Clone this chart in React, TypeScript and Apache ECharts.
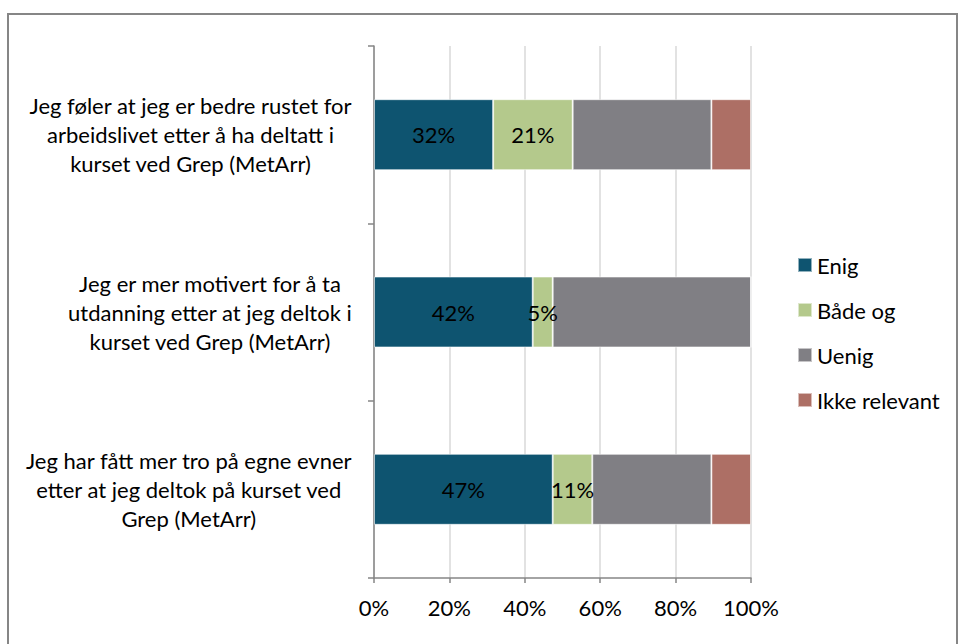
import React, { useEffect, useRef } from "react";
import * as echarts from "echarts";

const categories = [
  "Jeg føler at jeg er bedre rustet for\narbeidslivet etter å ha deltatt i\nkurset ved Grep (MetArr)",
  "Jeg er mer motivert for å ta\nutdanning etter at jeg deltok i\nkurset ved Grep (MetArr)",
  "Jeg har fått mer tro på egne evner\netter at jeg deltok på kurset ved\nGrep (MetArr)",
];
const seriesNames = ["Enig", "Både og", "Uenig", "Ikke relevant"];
const enig = [31.6, 42.1, 47.4];
const badeOg = [21.1, 5.3, 10.5];
const uenig = [36.8, 52.6, 31.6];
const ikkeRelevant = [10.5, 0, 10.5];
const xTicks = [0, 20, 40, 60, 80, 100];

const colors = ["#0E5470", "#B4C98C", "#807F84", "#AD6F65"];
const FONT = "Lato";
const FS = 22;

export default function App() {
  const ref = useRef<HTMLDivElement>(null);
  useEffect(() => {
    if (!ref.current) return;
    const chart = echarts.init(ref.current, null, { renderer: "svg" });
    const labelled = [true, true, false, false];
    const values = [enig, badeOg, uenig, ikkeRelevant];
    chart.setOption({
      animation: false,
      textStyle: { fontFamily: FONT },
      graphic: [
        {
          type: "rect",
          shape: { x: 8, y: 14, width: 949, height: 650 },
          style: { fill: "none", stroke: "#868686", lineWidth: 2 },
          silent: true,
        },
      ],
      grid: { left: 374, right: 207, top: 46, bottom: 66, containLabel: false },
      legend: {
        orient: "vertical",
        left: 797,
        top: 254,
        padding: 0,
        itemWidth: 14,
        itemHeight: 14,
        itemGap: 23,
        icon: "rect",
        data: seriesNames,
        textStyle: { fontFamily: FONT, fontSize: FS, lineHeight: 22, color: "#000" },
      },
      xAxis: {
        type: "value",
        min: xTicks[0],
        max: xTicks[xTicks.length - 1],
        interval: 20,
        axisLine: { show: true, lineStyle: { color: "#868686", width: 1.5 } },
        axisTick: { show: true, length: 5, lineStyle: { color: "#868686", width: 1.5 } },
        splitLine: { show: true, lineStyle: { color: "#D9D9D9", width: 1.5 } },
        axisLabel: {
          formatter: "{value}%",
          fontFamily: FONT,
          fontSize: FS,
          color: "#000",
          margin: 18,
        },
      },
      yAxis: {
        type: "category",
        inverse: true,
        data: categories,
        axisLine: { show: true, lineStyle: { color: "#868686", width: 1.5 } },
        axisTick: { show: true, length: 6, lineStyle: { color: "#868686", width: 1.5 } },
        splitLine: { show: false },
        axisLabel: {
          align: "right",
          margin: 22,
          color: "#000",
          fontFamily: FONT,
          fontSize: FS,
          lineHeight: 29,
          formatter: (v: string) =>
            v
              .split("\n")
              .map((l) => "{c|" + l + "}")
              .join("\n"),
          rich: {
            c: { align: "center", fontFamily: FONT, fontSize: FS, lineHeight: 29, color: "#000" },
          },
        },
      },
      series: seriesNames.map((name, i) => ({
        name,
        type: "bar",
        stack: "total",
        barCategoryGap: "60%",
        data: values[i],
        itemStyle: {
          color: colors[i],
          borderColor: "rgba(255,255,255,0.55)",
          borderWidth: 1,
        },
        label: {
          show: labelled[i],
          position: "inside",
          color: "#000",
          fontFamily: FONT,
          fontSize: FS,
          formatter: (p: any) => Math.round(p.value) + "%",
        },
      })),
    });
    return () => chart.dispose();
  }, []);
  return (
    <div
      ref={ref}
      style={{ position: "fixed", left: 0, top: 0, width: 958, height: 644, background: "#fff" }}
    />
  );
}
